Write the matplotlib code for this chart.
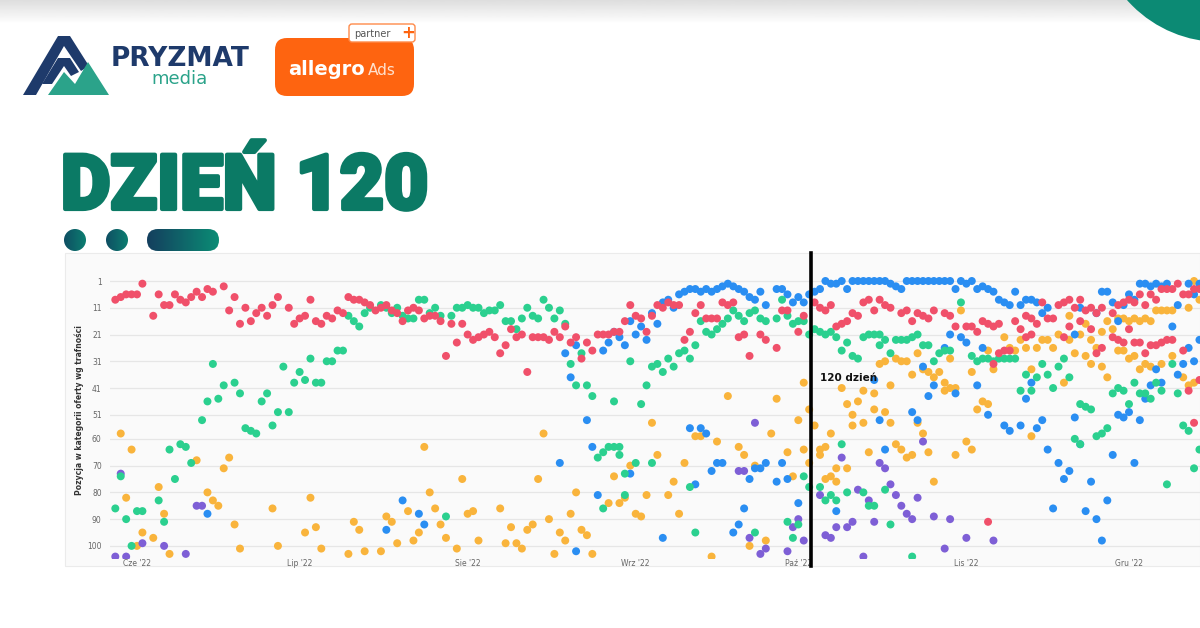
import datetime as dt
import numpy as np
import matplotlib
matplotlib.use('Agg')
from matplotlib import pyplot as plt
from matplotlib import dates as mdates
from matplotlib import patheffects
from matplotlib.ticker import FuncFormatter
from matplotlib.patches import Circle, FancyBboxPatch, Polygon, Rectangle
from matplotlib.colors import LinearSegmentedColormap

# ---- data: (days since 1 Jun 2022, position in category) ----
start = dt.datetime(2022, 6, 1)
marker_day = 124.4          # "120 dzień"
y_ticks = [1, 11, 21, 31, 41, 51, 60, 70, 80, 90, 100]
pl_months = {6: 'Cze', 7: 'Lip', 8: 'Sie', 9: 'Wrz', 10: 'Paź', 11: 'Lis', 12: 'Gru'}

red = [(-4,8),(-3,7),(-2,6),(-1,6),(0,6),(1,2),(3,14),(4,6),(5,10),(6,10),(7,6),(8,8),(9,9),(10,7),(11,5),(12,7),
       (13,4),(14,5),(16,3),(17,12),(18,7),(19,17),(20,11),(21,16),(22,13),(23,11),(24,14),(25,10),(26,7),(28,11),
       (29,17),(30,15),(31,14),(32,8),(33,16),(34,17),(35,14),(36,15),(37,12),
       (38,13),(39,7),(40,8),(41,8),(42,9),(43,10),(44,12),(45,11),(46,10),(47,12),(48,13),(49,16),(50,12),(51,11),
       (52,12),(53,15),(54,14),(55,14),(56,16),(57,29),(58,17),(59,24),(60,17),(61,21),(62,23),(63,22),(64,21),
       (65,20),(66,22),(67,28),(68,25),(69,19),(70,22),(71,21),(72,35),(73,22),(74,22),(75,22),(76,23),(77,20),(78,22),
       (79,18),(80,24),(81,22),(82,30),(83,24),(84,27),(85,21),(86,21),(87,21),(88,20),(89,20),(90,16),(91,10),(92,14),
       (93,15),(94,20),(95,14),(96,10),(97,11),(98,9),(99,10),(100,10),(101,23),(102,20),(103,13),(104,10),(105,15),
       (106,15),(107,15),(108,9),(109,10),(110,9),(111,22),(112,21),(113,29),(115,21),(116,23),(118,26),
       (119,12),(120,12),(122,20),(123,14),(125,9),(126,11),(127,12),(128,10),(129,18),(130,17),(131,16),(132,13),
       (133,14),(134,9),(135,8),(136,12),(137,8),(138,10),(139,11),(141,13),(142,12),(143,16),(144,13),(145,14),
       (146,15),(147,12),(149,13),(150,14),(151,18),(153,18),(154,18),(155,20),(156,16),(157,17),(158,18),(159,17),
       (157,91),(162,16),(163,19),(164,14),(165,15),(166,17),(167,9),(168,15),(169,15),(170,10),(171,9),(172,8),
       (173,11),(174,8),(175,12),(176,11),(177,13),(178,11),(180,13),(181,10),(182,9),(183,8),(184,9),(185,6),
       (186,10),(187,6),(188,8),(189,4),(190,4),(191,4),(192,2),(193,6),(194,6),(195,4),(196,4),
       (158,32),(159,28),(160,27),(161,27),(164,22),(165,21),(171,22),(172,18),(174,16),(176,19),(177,28),(178,26),
       (180,22),(181,23),(182,24),(183,19),(184,24),(185,24),(186,28),(187,25),(188,25),(189,24),(190,23),(191,23),
       (193,27),(194,42),(195,54),(196,38)]

green = [(-4,86),(-3,74),(-2,90),(-1,100),(0,87),(1,87),(4,83),(5,91),(6,64),(7,75),(8,62),(9,63),(10,69),(12,53),
         (13,46),(14,32),(15,45),(16,40),(18,39),(19,43),(20,56),(21,57),(22,58),(23,46),(24,43),(25,55),(26,50),
         (27,33),(28,50),(29,39),(30,35),(31,38),(32,30),(33,39),(34,39),(35,31),(36,31),(37,27),
         (38,27),(39,14),(40,16),(41,18),(42,13),(43,11),(45,10),(46,11),(47,13),(48,11),(49,14),(50,15),(51,15),
         (52,8),(53,8),(54,13),(55,11),(56,14),(57,89),(58,14),(59,11),(60,11),(61,10),(62,11),(63,11),(64,13),
         (65,12),(66,12),(67,10),(68,16),(69,16),(70,19),(71,15),(72,11),(73,14),(74,15),(75,8),(76,11),(77,15),(78,12),
         (79,17),(80,32),(81,40),(82,28),(83,40),(84,44),(85,67),(86,65),(87,63),(88,63),(89,63),(89,66),(88,46),
         (90,73),(90,81),(86,86),(91,31),(92,69),(93,47),(94,40),(95,33),(95,69),(96,32),(97,35),(98,30),(99,33),
         (100,28),(101,27),(102,30),(102,78),(103,25),(103,95),(104,16),(105,20),(106,21),(107,19),(108,17),(109,15),
         (110,12),(111,14),(112,16),(113,13),(114,12),(114,95),(115,15),(116,16),(118,15),
         (119,8),(120,14),(121,17),(122,16),(123,16),(124,21),(125,19),(126,20),(127,21),(128,20),(129,22),(130,27),
         (131,24),(132,29),(133,30),(134,22),(135,21),(136,21),(137,21),(137,25),(138,23),(139,28),(140,23),(141,23),
         (142,23),(143,22),(144,21),(145,25),(146,25),(147,31),(148,28),(149,27),(150,27),(152,9),(154,29),(155,31),
         (156,30),(157,30),(158,31),
         (120,91),(121,97),(122,92),(123,74),(124,78),(126,78),(127,83),(128,81),(129,83),(130,62),(131,80),(134,80),
         (135,85),(136,85),(138,79),(139,92),(143,104),
         (159,30),(160,30),(161,30),(162,30),(163,42),(164,36),(165,42),(166,37),(167,32),(168,36),(169,41),(170,33),
         (171,30),(172,37),(173,60),(174,47),(174,62),(175,48),(176,49),(177,59),(178,58),(179,56),(180,43),(181,41),
         (182,42),(183,47),(184,39),(185,43),(186,43),(187,45),(188,39),(189,42),(190,77),(191,32),(192,43),(193,55),
         (194,57),(195,71),(196,64)]

blue = [(13,88),(46,94),(49,83),(52,88),(53,92),(78,69),
        (79,28),(80,37),(81,25),(81,102),(83,53),(84,63),(85,81),(86,27),(87,24),(88,20),(89,22),(90,25),(91,16),
        (91,73),(92,21),(93,18),(94,23),(95,13),(96,17),(97,9),(97,97),(98,8),(99,11),(100,6),(101,5),(102,4),(102,56),
        (103,4),(103,77),(104,5),(104,56),(105,4),(105,58),(106,5),(106,72),(107,4),(107,69),(108,3),(108,69),(109,2),
        (110,3),(110,95),(111,4),(111,92),(112,5),(112,86),(113,7),(113,75),(114,8),(114,71),(115,5),(115,71),(116,10),
        (116,69),(118,4),(118,76),
        (119,4),(120,6),(121,9),(122,7),(123,9),(124,6),(125,5),(126,4),(127,1),(128,2),(129,2),(130,1),(131,4),
        (132,1),(133,1),(134,1),(135,1),(136,1),(137,1),(138,1),(139,2),(140,3),(141,4),(142,1),(143,1),(144,1),
        (145,1),(146,1),(147,1),(148,1),(149,1),(150,1),(151,4),(152,1),(153,2),(154,1),(155,4),(156,3),(157,4),(158,5),
        (119,69),(120,75),(122,84),(129,87),(136,38),(137,53),(138,64),(143,50),(144,53),(145,33),(146,44),(147,40),
        (149,26),(150,21),(151,43),(152,22),(153,24),(155,40),(156,26),(157,51),
        (159,8),(160,9),(161,10),(162,5),(163,10),(164,8),(165,8),(166,9),(167,13),(168,11),(173,21),(174,11),
        (177,13),(178,5),(179,5),(180,9),(181,16),(182,10),(183,6),(184,8),(185,2),(186,2),(187,3),(188,2),(189,3),
        (190,2),(191,18),(192,10),(194,2),(195,6),(196,2),
        (160,55),(161,57),(163,55),(164,45),(165,39),(166,56),(167,53),(168,64),(169,86),(170,69),(171,75),(172,72),
        (173,52),(174,62),(175,87),(176,76),(177,90),(178,98),(179,83),(180,66),(181,51),(182,52),(183,50),(184,69),
        (185,53),(186,45),(187,40),(188,34),(189,39),(192,36),(193,32),(194,26),(195,31),(196,23)]

orange = [(-3,58),(-2,82),(-1,64),(0,100),(1,95),(3,97),(4,78),(5,88),(6,103),(11,68),(13,80),(14,83),(15,85),
          (16,71),(17,67),(18,92),(19,101),(25,86),(26,100),(31,95),(32,82),(33,93),(34,101),
          (39,103),(40,91),(41,94),(42,102),(45,102),(46,89),(47,91),(48,99),(50,87),(51,98),(52,95),(53,63),(54,80),
          (55,86),(56,92),(57,97),(59,101),(60,75),(61,88),(62,87),(63,98),(67,86),(68,99),(69,93),(70,99),(71,101),
          (72,94),(73,92),(74,75),(75,58),(76,90),(77,103),(78,95),
          (79,98),(80,88),(81,80),(82,94),(83,96),(84,103),(87,84),(88,74),(89,84),(90,82),(91,70),(92,88),(93,89),
          (94,81),(95,54),(96,66),(98,81),(99,76),(100,88),(101,69),(103,59),(104,59),(106,104),(107,61),(109,44),
          (111,63),(112,66),(113,100),(114,70),(116,98),(117,58),(118,45),
          (120,65),(121,74),(122,53),(123,39),(123,64),(124,49),(124,69),(125,55),(126,64),(126,66),(127,63),(127,75),
          (128,74),(128,58),(129,71),(129,76),(130,41),(131,71),(131,47),(132,51),(132,55),(133,46),(134,54),(134,42),
          (135,65),(136,43),(136,49),(137,32),(138,31),(138,50),(139,40),(139,54),(140,30),(140,62),(141,31),(141,64),
          (142,31),(142,67),(143,36),(143,66),(144,28),(144,54),(145,34),(145,58),(146,35),(146,65),(147,37),(147,76),
          (148,35),(149,42),(149,39),(150,30),(150,41),(151,41),(151,66),(152,12),(153,61),(154,64),(154,35),(155,49),
          (156,46),(157,47),(157,27),(158,34),
          (160,22),(161,26),(162,27),(163,23),(164,26),(165,34),(165,59),(166,26),(167,23),(168,23),(169,26),(170,21),
          (171,39),(172,14),(172,23),(173,28),(174,21),(175,17),(175,29),(176,32),(176,23),(177,26),(178,20),(178,33),
          (179,37),(179,16),(180,19),(181,15),(181,27),(182,15),(182,27),(183,30),(183,16),(184,29),(184,15),(185,34),
          (185,16),(186,15),(186,32),(187,16),(187,33),(188,12),(189,12),(189,32),(190,12),(191,12),(191,29),(193,37),
          (194,11),(194,40),(195,1),(195,39),(196,8)]

purple = [(-4,104),(-3,73),(-2,104),(1,99),(5,100),(9,103),(11,85),(12,85),(111,72),(112,72),(113,97),(114,54),
          (115,103),(116,101),(120,102),(121,93),(122,90),(123,98),(126,81),(127,96),(128,97),(129,93),(130,67),
          (131,93),(132,91),(133,79),(134,104),(135,83),(136,91),(137,69),(138,71),(139,77),(140,81),(141,85),
          (142,88),(143,90),(144,82),(145,61),(147,89),(149,101),(150,90),(153,97),(158,98)]

series = [(orange, '#f9b43c'), (purple, '#7e5fd6'), (blue, '#2a8ef2'), (green, '#2bd08f'), (red, '#f0506a')]

base = mdates.date2num(start)

fig = plt.figure(figsize=(12, 6.28), dpi=100)
fig.patch.set_facecolor('white')

# background / decoration layer in pixel coordinates
bg = fig.add_axes([0, 0, 1, 1])
bg.axis('off')

shade = np.linspace(0.87, 1.0, 40).reshape(-1, 1)
bg.imshow(shade, cmap='gray', vmin=0, vmax=1, extent=(0, 1200, 24, 0), aspect='auto', origin='upper')
bg.add_patch(Circle((1220, -82), 124, fc='#0c8a74', ec='none'))


def grad_shape(patch, x0, x1, y0, y1, c0, c1):
    patch.set_facecolor('none')
    patch.set_edgecolor('none')
    bg.add_patch(patch)
    cmap = LinearSegmentedColormap.from_list('g', [c0, c1])
    im = bg.imshow(np.linspace(0, 1, 64).reshape(1, -1), cmap=cmap, extent=(x0, x1, y1, y0), aspect='auto')
    im.set_clip_path(patch)


# PRYZMAT media logo
bg.add_patch(Polygon([(23, 95), (58, 36), (70, 36), (89, 66), (81, 71), (64, 46), (36, 95)], fc='#1e3a6b'))
bg.add_patch(Polygon([(42, 84), (58, 58), (70, 58), (79, 72), (71, 76), (64, 66), (52, 84)], fc='#1e3a6b'))
bg.add_patch(Polygon([(48, 95), (64, 72), (75, 84), (88, 62), (109, 95)], fc='#2ba38a'))
bg.text(111, 66, 'PRYZMAT', fontsize=19, weight='bold', color='#1e3a6b', va='baseline')
bg.text(151, 84, 'media', fontsize=13, color='#2ba38a', va='baseline')

# allegro Ads badge
bg.add_patch(FancyBboxPatch((275, 38), 139, 58, boxstyle='round,pad=0,rounding_size=12', fc='#fe6410', ec='none'))
bg.add_patch(FancyBboxPatch((349, 24), 66, 18, boxstyle='round,pad=0,rounding_size=3', fc='white',
                            ec='#fe8a4a', lw=1))
bg.text(354, 37, 'partner', fontsize=7, color='#555555', va='baseline')
bg.text(401, 38, '+', fontsize=12, weight='bold', color='#fe6410', va='baseline')
bg.text(288, 75, 'allegro', fontsize=14, weight='bold', color='white', va='baseline')
bg.text(368, 75, 'Ads', fontsize=11, color='#ffe0cc', va='baseline')

# title and decorative dots
bg.text(61, 209, 'DZIEŃ 120', fontsize=55, family='Roboto', weight='black', color='#0b7a65', va='baseline',
        path_effects=[patheffects.withStroke(linewidth=3, foreground='#0b7a65')])
grad_shape(Circle((75, 240), 11), 64, 86, 229, 251, '#0f4f63', '#0c7d70')
grad_shape(Circle((117, 240), 11), 106, 128, 229, 251, '#0f4f63', '#0c7d70')
grad_shape(FancyBboxPatch((147, 229), 72, 22, boxstyle='round,pad=0,rounding_size=11'),
           147, 219, 229, 251, '#143f5e', '#0b8c75')

# chart panel
bg.add_patch(Rectangle((65, 253), 1135, 313, fc='#fafafa', ec='#ebebeb', lw=0.8))
bg.set_xlim(0, 1200)
bg.set_ylim(628, 0)

# chart
ax = fig.add_axes([110 / 1200, 1 - 559 / 628, 1090 / 1200, 291 / 628])
ax.set_facecolor('none')
for pts, col in series:
    days, pos = zip(*pts)
    ax.scatter([base + d for d in days], pos, s=33, color=col, edgecolors='none', zorder=3)

ax.set_xlim(base - 4.98, base + 196.1)
ax.set_ylim(104.9, -3.86)
ax.set_yticks(y_ticks)
ax.grid(axis='y', color='#e6e6e6', lw=0.9)
ax.set_axisbelow(True)
ax.xaxis.set_major_locator(mdates.MonthLocator())
ax.xaxis.set_major_formatter(FuncFormatter(
    lambda v, p: "%s '%s" % (pl_months[mdates.num2date(v).month], mdates.num2date(v).strftime('%y'))))
ax.tick_params(axis='both', length=0, labelsize=5.5, labelcolor='#666666')
ax.tick_params(axis='x', pad=0)
ax.tick_params(axis='y', pad=6)
for s in ax.spines.values():
    s.set_visible(False)
ax.set_ylabel('Pozycja w kategorii oferty wg trafności', fontsize=5.5, weight='bold', color='#333333')
ax.yaxis.set_label_coords(-0.024, 0.512)

ax.axvline(base + marker_day, ymin=-7 / 291, ymax=1 + 15 / 291, color='black', lw=2.6, clip_on=False, zorder=5)
ax.text(base + marker_day + 1.6, 37.2, '120 dzień', fontsize=7.5, weight='bold', color='#111111',
        ha='left', va='center', zorder=6)

plt.savefig('out.png', dpi=100)
